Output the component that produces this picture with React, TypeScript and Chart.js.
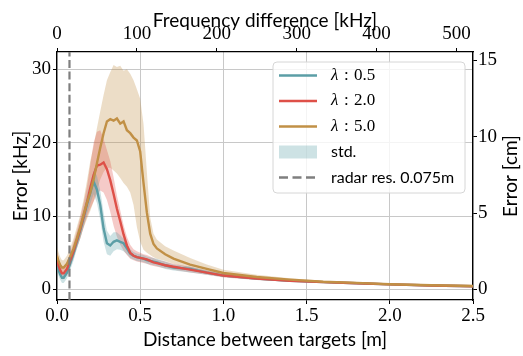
import React, { useEffect, useRef } from "react";
import { Chart, registerables } from "chart.js";

Chart.register(...registerables);

// ---------------- data ----------------
const distances = [
  0, 0.01, 0.02, 0.03, 0.04, 0.06, 0.08, 0.1, 0.12, 0.14, 0.16, 0.18, 0.2, 0.22, 0.24, 0.26, 0.28, 0.3,
  0.32, 0.34, 0.36, 0.38, 0.4, 0.42, 0.44, 0.46, 0.48, 0.5, 0.52, 0.54, 0.56, 0.58, 0.6, 0.65, 0.7, 0.8,
  0.9, 1.0, 1.2, 1.4, 1.6, 1.8, 2.0, 2.25, 2.5,
];

const meanLam05 = [
  3.5, 2.6, 2.0, 1.6, 1.6, 2.3, 3.6, 5.0, 6.6, 8.1, 9.8, 11.6, 13.2, 14.7, 13.6, 11.5, 8.3, 6.3,
  6.0, 6.5, 6.7, 6.5, 6.3, 5.6, 4.9, 4.6, 4.4, 4.3, 4.2, 4.0, 3.9, 3.8, 3.7, 3.3, 3.0, 2.8,
  2.3, 1.9, 1.5, 1.2, 1.0, 0.85, 0.7, 0.55, 0.45,
];
const upperLam05 = [
  4.5, 3.5, 2.8, 2.4, 2.4, 3.1, 4.5, 6.0, 7.6, 9.2, 11.0, 12.9, 14.6, 16.2, 15.5, 13.5, 10.5, 8.0,
  7.3, 7.8, 7.8, 7.4, 6.9, 6.2, 5.5, 5.1, 4.9, 4.8, 4.7, 4.5, 4.4, 4.3, 4.2, 3.8, 3.4, 3.1,
  2.6, 2.2, 1.7, 1.35, 1.12, 0.95, 0.78, 0.62, 0.52,
];
const lowerLam05 = [
  2.5, 1.8, 1.3, 0.9, 0.9, 1.5, 2.7, 4.0, 5.6, 7.0, 8.6, 10.3, 11.7, 13.0, 11.8, 9.5, 6.5, 4.8,
  4.6, 5.2, 5.5, 5.4, 5.2, 4.8, 4.3, 4.1, 3.9, 3.8, 3.7, 3.5, 3.4, 3.3, 3.2, 2.8, 2.6, 2.3,
  2.0, 1.7, 1.3, 1.05, 0.88, 0.75, 0.62, 0.48, 0.38,
];

const meanLam20 = [
  4.0, 3.2, 2.6, 2.2, 2.2, 2.8, 4.0, 5.3, 6.8, 8.3, 10.0, 11.8, 13.8, 15.6, 16.9, 17.0, 17.3, 16.4,
  14.9, 13.0, 11.0, 9.3, 7.5, 6.0, 5.0, 4.6, 4.4, 4.3, 4.2, 4.1, 3.9, 3.7, 3.6, 3.3, 3.1, 2.7,
  2.3, 1.9, 1.5, 1.2, 1.0, 0.85, 0.7, 0.55, 0.45,
];
const upperLam20 = [
  5.0, 4.2, 3.5, 3.1, 3.1, 3.8, 5.0, 6.5, 8.0, 9.8, 11.8, 14.0, 17.0, 20.0, 21.5, 21.7, 20.5, 19.0,
  17.5, 15.3, 12.8, 10.8, 8.8, 7.2, 6.1, 5.5, 5.2, 5.0, 4.8, 4.7, 4.5, 4.3, 4.1, 3.8, 3.5, 3.1,
  2.6, 2.2, 1.7, 1.35, 1.12, 0.95, 0.78, 0.62, 0.52,
];
const lowerLam20 = [
  3.0, 2.3, 1.8, 1.4, 1.4, 2.0, 3.1, 4.3, 5.7, 7.0, 8.5, 9.9, 11.0, 12.0, 13.0, 13.5, 13.2, 12.2,
  10.6, 8.7, 7.2, 6.1, 5.3, 4.7, 4.2, 4.0, 3.8, 3.7, 3.6, 3.5, 3.3, 3.2, 3.1, 2.9, 2.7, 2.3,
  2.0, 1.65, 1.3, 1.05, 0.88, 0.75, 0.62, 0.48, 0.38,
];

const meanLam50 = [
  4.6, 3.8, 3.3, 3.0, 3.0, 3.5, 4.5, 5.6, 7.0, 8.5, 10.2, 11.8, 13.2, 15.0, 17.2, 19.3, 21.3, 22.9,
  23.2, 23.0, 23.3, 22.6, 22.9, 21.7, 21.3, 20.7, 20.3, 18.8, 14.5, 10.5, 7.6, 6.2, 5.6, 4.8, 4.2, 3.4,
  2.8, 2.25, 1.7, 1.35, 1.05, 0.9, 0.72, 0.58, 0.47,
];
const upperLam50 = [
  5.8, 5.0, 4.4, 4.0, 4.0, 4.6, 5.7, 7.0, 8.6, 10.2, 12.3, 14.8, 17.5, 19.5, 22.0, 24.3, 26.5, 28.5,
  29.6, 30.6, 30.3, 30.5, 29.8, 30.0, 29.4, 28.5, 27.3, 26.0, 22.5, 16.0, 9.8, 7.6, 6.8, 5.9, 5.3, 4.3,
  3.4, 2.7, 2.0, 1.55, 1.2, 1.02, 0.82, 0.66, 0.54,
];
const lowerLam50 = [
  3.6, 2.9, 2.4, 2.1, 2.1, 2.6, 3.5, 4.5, 5.7, 7.0, 8.4, 9.6, 10.7, 12.0, 13.5, 15.0, 16.0, 16.6,
  16.6, 16.2, 15.8, 15.2, 14.5, 14.0, 13.2, 11.5, 8.5, 6.5, 5.4, 5.0, 4.7, 4.4, 4.2, 3.9, 3.5, 2.9,
  2.4, 1.9, 1.45, 1.15, 0.92, 0.78, 0.64, 0.5, 0.4,
];

const seriesLabels = ["\u03bb : 0.5", "\u03bb : 2.0", "\u03bb : 5.0"];
const lambdaValues = ["0.5", "2.0", "5.0"];
const stdLabel = "std.";
const radarLabel = "radar res. 0.075m";
const radarRes = 0.075;

const distanceTicks = [0, 0.5, 1.0, 1.5, 2.0, 2.5];
const freqTicks = [0, 100, 200, 300, 400, 500];
const errKHzTicks = [0, 10, 20, 30];
const errCmTicks = [0, 5, 10, 15];

const xMax = 2.5;
const freqMax = 520.8;
const yMin = -1.43;
const yMax = 32.36;
const kHzPerCm = freqMax / (xMax * 100);

// ---------------- style ----------------
const COL_BLUE = "rgb(91,158,166)";
const COL_RED = "rgb(222,80,72)";
const COL_GOLD = "rgb(193,144,70)";
const BAND_BLUE = "rgba(91,158,166,0.3)";
const BAND_RED = "rgba(222,80,72,0.3)";
const BAND_GOLD = "rgba(193,144,70,0.3)";
const DASH_COL = "#7f7f7f";
const GRID_COL = "#c8c8c8";
const SERIF = "'Liberation Serif', 'DejaVu Serif', serif";
const SANS = "Lato, 'DejaVu Sans', sans-serif";

const pts = (ys: number[]) => distances.map((d, i) => ({ x: d, y: ys[i] }));

const legendPlugin = {
  id: "customLegend",
  afterDraw(chart: any) {
    const ctx = chart.ctx;
    const bx = 273, by = 62, bw = 192, bh = 131, r = 4;
    ctx.save();
    ctx.beginPath();
    ctx.moveTo(bx + r, by);
    ctx.lineTo(bx + bw - r, by);
    ctx.quadraticCurveTo(bx + bw, by, bx + bw, by + r);
    ctx.lineTo(bx + bw, by + bh - r);
    ctx.quadraticCurveTo(bx + bw, by + bh, bx + bw - r, by + bh);
    ctx.lineTo(bx + r, by + bh);
    ctx.quadraticCurveTo(bx, by + bh, bx, by + bh - r);
    ctx.lineTo(bx, by + r);
    ctx.quadraticCurveTo(bx, by, bx + r, by);
    ctx.closePath();
    ctx.fillStyle = "rgba(255,255,255,0.8)";
    ctx.fill();
    ctx.strokeStyle = "#d6d6d6";
    ctx.lineWidth = 1;
    ctx.stroke();

    const x0 = 279, x1 = 317, tx = 331;
    const rows = [75.5, 101, 126.5, 152, 177.5];
    const cols = [COL_BLUE, COL_RED, COL_GOLD];
    ctx.textBaseline = "middle";
    ctx.textAlign = "left";
    for (let i = 0; i < 3; i++) {
      ctx.beginPath();
      ctx.strokeStyle = cols[i];
      ctx.lineWidth = 2.4;
      ctx.moveTo(x0, rows[i]);
      ctx.lineTo(x1, rows[i]);
      ctx.stroke();
      ctx.fillStyle = "#000";
      ctx.font = `italic 17px ${SERIF}`;
      ctx.fillText("\u03bb", tx, rows[i]);
      ctx.font = `17px ${SERIF}`;
      ctx.fillText(":", tx + 13, rows[i]);
      ctx.fillText(lambdaValues[i], tx + 23, rows[i]);
    }
    ctx.fillStyle = BAND_BLUE;
    ctx.fillRect(x0, rows[3] - 6.5, x1 - x0, 13);
    ctx.fillStyle = "#000";
    ctx.font = `16px ${SANS}`;
    ctx.fillText(stdLabel, tx, rows[3]);
    ctx.beginPath();
    ctx.setLineDash([9, 4.5]);
    ctx.strokeStyle = DASH_COL;
    ctx.lineWidth = 2.4;
    ctx.moveTo(x0, rows[4]);
    ctx.lineTo(x1, rows[4]);
    ctx.stroke();
    ctx.setLineDash([]);
    ctx.fillText(radarLabel, tx, rows[4]);

    // right axis title (reads bottom-to-top)
    const ca = chart.chartArea;
    ctx.save();
    ctx.translate(511, (ca.top + ca.bottom) / 2);
    ctx.rotate(-Math.PI / 2);
    ctx.textAlign = "center";
    ctx.textBaseline = "middle";
    ctx.font = `19px ${SANS}`;
    ctx.fillText("Error [cm]", 0, 0);
    ctx.restore();
    ctx.restore();
  },
};

const tickFont = { family: SERIF, size: 19 };
const titleFont = { family: SANS, size: 19 };

export default function App() {
  const ref = useRef<HTMLCanvasElement>(null);
  useEffect(() => {
    if (!ref.current) return;
    const band = (ys: number[], color: string, fill: any) => ({
      data: pts(ys),
      borderWidth: 0,
      borderColor: "transparent",
      backgroundColor: color,
      pointRadius: 0,
      fill,
      order: 10,
    });
    const line = (ys: number[], color: string, order: number, label: string) => ({
      label,
      data: pts(ys),
      borderWidth: 2.4,
      borderColor: color,
      pointRadius: 0,
      fill: false,
      order,
    });
    const chart = new Chart(ref.current, {
      type: "line",
      data: {
        datasets: [
          band(upperLam05, BAND_BLUE, "+1"),
          band(lowerLam05, "transparent", false),
          band(upperLam20, BAND_RED, "+1"),
          band(lowerLam20, "transparent", false),
          band(upperLam50, BAND_GOLD, "+1"),
          band(lowerLam50, "transparent", false),
          line(meanLam05, COL_BLUE, 4, seriesLabels[0]),
          line(meanLam20, COL_RED, 3, seriesLabels[1]),
          line(meanLam50, COL_GOLD, 2, seriesLabels[2]),
          {
            label: radarLabel,
            data: [
              { x: radarRes, y: yMin },
              { x: radarRes, y: yMax },
            ],
            borderWidth: 2.2,
            borderColor: DASH_COL,
            borderDash: [8, 3.6],
            pointRadius: 0,
            fill: false,
            order: 1,
          },
        ] as any,
      },
      options: {
        responsive: false,
        animation: false,
        events: [],
        layout: { padding: 0 },
        plugins: {
          legend: { display: false },
          tooltip: { enabled: false },
          filler: { drawTime: "beforeDatasetsDraw" },
        } as any,
        scales: {
          x: {
            type: "linear",
            position: "bottom",
            min: 0,
            max: xMax,
            afterBuildTicks: (s: any) => {
              s.ticks = distanceTicks.map((v) => ({ value: v }));
            },
            afterFit: (s: any) => {
              s.height = 56;
            },
            ticks: {
              font: tickFont,
              color: "#000",
              padding: 1,
              maxRotation: 0,
              autoSkip: false,
              callback: (v: any) => Number(v).toFixed(1),
            },
            grid: { color: GRID_COL, lineWidth: 1, tickLength: 4, tickColor: "#000" },
            border: { color: "#000", width: 1.3 },
            title: {
              display: true,
              text: "Distance between targets [m]",
              font: titleFont,
              color: "#000",
              padding: { top: 0, bottom: 5 },
            },
          },
          x2: {
            type: "linear",
            position: "top",
            min: 0,
            max: freqMax,
            afterBuildTicks: (s: any) => {
              s.ticks = freqTicks.map((v) => ({ value: v }));
            },
            afterFit: (s: any) => {
              s.height = 52;
            },
            ticks: {
              font: tickFont,
              color: "#000",
              padding: 3,
              maxRotation: 0,
              autoSkip: false,
              callback: (v: any) => String(Math.round(Number(v))),
            },
            grid: { drawOnChartArea: false, tickLength: 4, tickColor: "#000" },
            border: { color: "#000", width: 1.3 },
            title: {
              display: true,
              text: "Frequency difference [kHz]",
              font: titleFont,
              color: "#000",
              padding: { top: 9.5, bottom: 0 },
            },
          },
          y: {
            type: "linear",
            position: "left",
            min: yMin,
            max: yMax,
            afterBuildTicks: (s: any) => {
              s.ticks = errKHzTicks.map((v) => ({ value: v }));
            },
            afterFit: (s: any) => {
              s.width = 57;
            },
            ticks: {
              font: tickFont,
              color: "#000",
              padding: 2,
              callback: (v: any) => String(Math.round(Number(v))),
            },
            grid: { color: GRID_COL, lineWidth: 1, tickLength: 4, tickColor: "#000" },
            border: { color: "#000", width: 1.3 },
            title: {
              display: true,
              text: "Error [kHz]",
              font: titleFont,
              color: "#000",
              padding: { top: 9.5, bottom: 0 },
            },
          },
          y2: {
            type: "linear",
            position: "right",
            min: yMin / kHzPerCm,
            max: yMax / kHzPerCm,
            afterBuildTicks: (s: any) => {
              s.ticks = errCmTicks.map((v) => ({ value: v }));
            },
            afterFit: (s: any) => {
              s.width = 50;
            },
            ticks: {
              font: tickFont,
              color: "#000",
              padding: 1,
              callback: (v: any) => String(Math.round(Number(v))),
            },
            grid: { drawOnChartArea: false, tickLength: 4, tickColor: "#000" },
            border: { color: "#000", width: 1.3 },
          },
        } as any,
      },
      plugins: [legendPlugin],
    });
    return () => chart.destroy();
  }, []);

  return (
    <div style={{ position: "fixed", left: 0, top: 0, width: 523, height: 356, background: "#fff" }}>
      <canvas ref={ref} width={523} height={356} style={{ display: "block" }} />
    </div>
  );
}
